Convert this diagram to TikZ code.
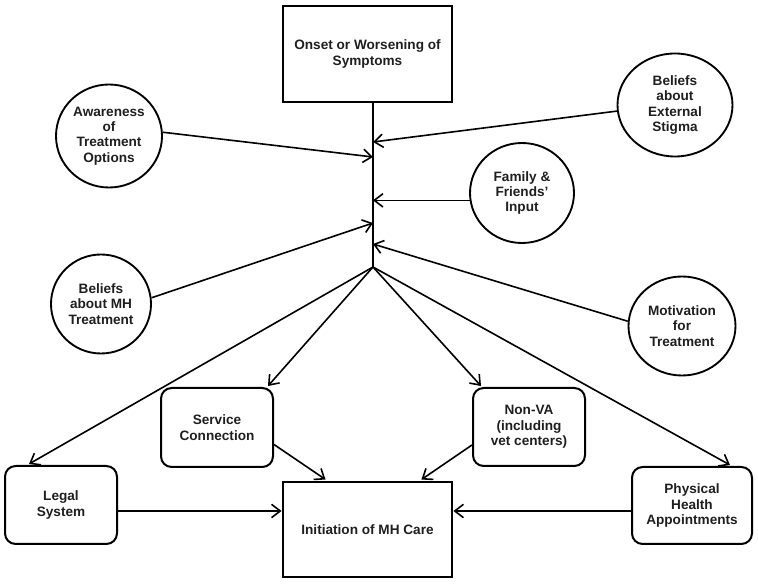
\documentclass[tikz,border=0pt]{standalone}
\usepackage{fontspec}
\setmainfont{Liberation Sans}
\usetikzlibrary{arrows.meta,shapes.geometric,calc}
\begin{document}
\begin{tikzpicture}[x=0.75pt,y=-0.75pt,
  txt/.style={font=\bfseries\fontsize{10.2}{11.6}\selectfont, align=center, text=black!88},
  sqbox/.style={txt, draw, line width=2.2pt, rectangle, inner sep=0pt},
  rbox/.style={txt, draw, line width=1.5pt, rounded corners=8pt, rectangle, inner sep=0pt},
  circ/.style={txt, draw, line width=1.4pt, ellipse, inner sep=0pt},
  arr/.style={-{Straight Barb[length=6.5pt,width=10pt]}, line width=1.2pt},
  trunk/.style={line width=2.1pt},
]
\useasboundingbox (0,0) rectangle (758,584);

% square boxes
\node[sqbox, minimum width=169*0.75pt, minimum height=96*0.75pt] (top) at (367.5,54) {Onset or Worsening of\\Symptoms};
\node[sqbox, minimum width=169*0.75pt, minimum height=95*0.75pt] (ini) at (367.5,529.5) {Initiation of MH Care};

% rounded boxes
\node[rbox, minimum width=112*0.75pt, minimum height=79*0.75pt] (sc) at (217,427.5) {Service\\Connection};
\node[rbox, minimum width=112*0.75pt, minimum height=78*0.75pt] (nv) at (529,427) {Non-VA\\(including\\vet centers)};
\node[rbox, minimum width=112*0.75pt, minimum height=78*0.75pt] (lg) at (61,505) {Legal\\System};
\node[rbox, minimum width=120*0.75pt, minimum height=77*0.75pt] (ph) at (692,505.5) {Physical\\Health\\Appointments};

% circles
\node[circ, minimum width=106*0.75pt, minimum height=103*0.75pt] (aw) at (109,136) {Awareness\\of\\Treatment\\Options};
\node[circ, minimum width=115*0.75pt, minimum height=103*0.75pt] (es) at (675,105) {Beliefs\\about\\External\\Stigma};
\node[circ, minimum width=104*0.75pt, minimum height=100*0.75pt] (ff) at (522,193) {Family \&\\Friends'\\Input};
\node[circ, minimum width=100*0.75pt, minimum height=99*0.75pt] (bm) at (101,304) {Beliefs\\about MH\\Treatment};
\node[circ, minimum width=107*0.75pt, minimum height=99*0.75pt] (mt) at (682,326) {Motivation\\for\\Treatment};

% trunk
\coordinate (j) at (373,267);
\coordinate (t1) at (373,142);
\coordinate (t2) at (373,157);
\coordinate (t4) at (373,223);
\coordinate (t5) at (373,244);
\draw[trunk] (j |- top.south) -- (j);

% inputs to trunk
\draw[arr] (aw.4) -- (t2);
\draw[arr] (es.186) -- (t1);
\draw[arr] (ff.188) -- (ff.188 -| j);
\draw[arr] (bm.7) -- (t4);
\draw[arr] (mt.175) -- (t5);

% branches
\draw[arr] (j) -- ($(sc.north east)+(-6,-1)$);
\draw[arr] (j) -- ($(nv.north west)+(9,-1)$);
\draw[arr] (j) -- ($(lg.north west)+(25,-1)$);
\draw[arr] (j) -- ($(ph.north east)+(-23,-1)$);

% into initiation
\coordinate (h) at (0,511);
\draw[arr] ($(sc.east)+(0,17)$) -- ($(ini.north west)+(44,-1)$);
\draw[arr] ($(nv.west)+(0,18)$) -- ($(ini.north east)+(-32,-1)$);
\draw[arr] (lg.east |- h) -- (ini.west |- h);
\draw[arr] (ph.west |- h) -- (ini.east |- h);
\end{tikzpicture}
\end{document}
